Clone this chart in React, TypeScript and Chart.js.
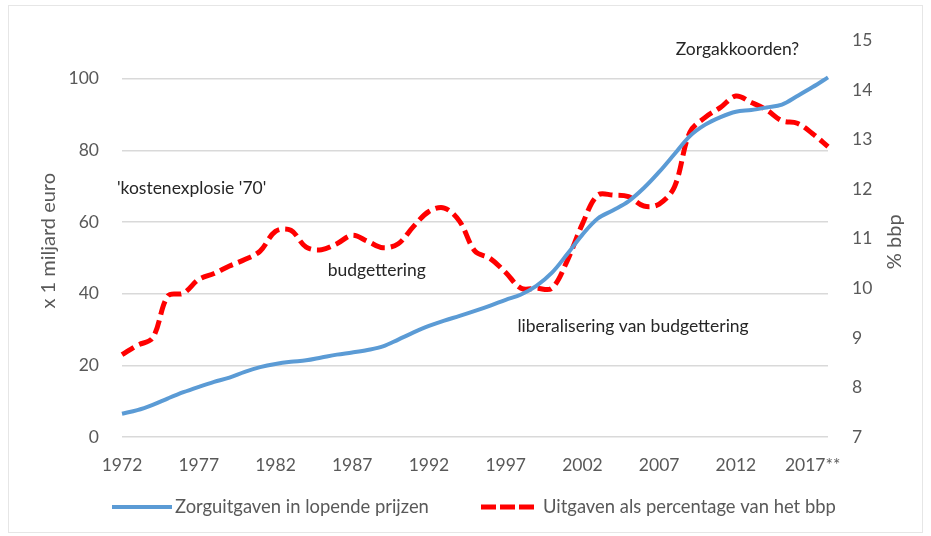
import React, { useEffect, useRef } from 'react';
import { Chart, registerables } from 'chart.js';

Chart.register(...registerables);

// ---- Data ----
const years: number[] = [
  1972, 1973, 1974, 1975, 1976, 1977, 1978, 1979, 1980, 1981,
  1982, 1983, 1984, 1985, 1986, 1987, 1988, 1989, 1990, 1991,
  1992, 1993, 1994, 1995, 1996, 1997, 1998, 1999, 2000, 2001,
  2002, 2003, 2004, 2005, 2006, 2007, 2008, 2009, 2010, 2011,
  2012, 2013, 2014, 2015, 2016, 2017, 2018,
];

// Zorguitgaven in lopende prijzen (x 1 miljard euro)
const spending: number[] = [
  6.5, 7.5, 9.0, 10.8, 12.5, 14.0, 15.4, 16.6, 18.2, 19.5,
  20.4, 21.0, 21.4, 22.2, 23.0, 23.6, 24.3, 25.3, 27.2, 29.2,
  31.0, 32.5, 33.8, 35.2, 36.7, 38.3, 39.8, 42.2, 45.8, 51.0,
  56.5, 61.0, 63.3, 65.8, 69.5, 74.0, 79.0, 84.0, 87.2, 89.3,
  90.8, 91.3, 92.0, 92.8, 95.2, 97.7, 100.4,
];

// Uitgaven als percentage van het bbp (% bbp)
const pctGdp: number[] = [
  8.66, 8.85, 9.0, 9.85, 9.9, 10.18, 10.3, 10.45, 10.58, 10.75,
  11.15, 11.17, 10.83, 10.78, 10.9, 11.07, 10.95, 10.82, 10.9, 11.25,
  11.55, 11.62, 11.35, 10.75, 10.6, 10.32, 10.0, 10.0, 10.0, 10.55,
  11.3, 11.88, 11.88, 11.85, 11.66, 11.7, 12.05, 13.15, 13.45, 13.65,
  13.88, 13.75, 13.6, 13.38, 13.33, 13.12, 12.86,
];

const tickYears: number[] = [1972, 1977, 1982, 1987, 1992, 1997, 2002, 2007, 2012, 2017];
const tickLabels: string[] = ['1972', '1977', '1982', '1987', '1992', '1997', '2002', '2007', '2012', '2017**'];

const leftTicks: number[] = [0, 20, 40, 60, 80, 100];
const rightTicks: number[] = [7, 8, 9, 10, 11, 12, 13, 14, 15];

const seriesNames: string[] = ['Zorguitgaven in lopende prijzen', 'Uitgaven als percentage van het bbp'];
const leftTitle = 'x 1 miljard euro';
const rightTitle = '% bbp';

// annotations anchored in data space (year, left-axis value)
const annotationTexts: string[] = ["'kostenexplosie '70'", 'budgettering', 'liberalisering van budgettering', 'Zorgakkoorden?'];
const annotationYears: number[] = [1971.67, 1988.6, 2005.3, 2012.1];
const annotationValues: number[] = [69.5, 46.4, 31.0, 108.2];
const annotationAligns: CanvasTextAlign[] = ['left', 'center', 'center', 'center'];

const BLUE = '#5B9BD5';
const RED = '#FF0000';
const TICK_COLOR = '#595959';
const TEXT_COLOR = '#262626';
const FONT = 'Lato, "Open Sans", sans-serif';

const overlayPlugin = {
  id: 'overlay',
  afterDraw(chart: any) {
    const { ctx, chartArea, scales } = chart;
    const x = scales.x;
    const yL = scales.yL;
    ctx.save();

    // annotations
    ctx.fillStyle = TEXT_COLOR;
    ctx.font = `17.5px ${FONT}`;
    ctx.textBaseline = 'middle';
    annotationTexts.forEach((t, i) => {
      const px = x.getPixelForValue(annotationYears[i] - years[0]);
      const py = yL.getPixelForValue(annotationValues[i]);
      ctx.textAlign = annotationAligns[i];
      ctx.fillText(t, px, py);
    });

    // axis titles (both read bottom-to-top)
    ctx.fillStyle = TICK_COLOR;
    ctx.font = `20px ${FONT}`;
    ctx.textAlign = 'center';
    ctx.textBaseline = 'middle';
    const midY = (chartArea.top + chartArea.bottom) / 2;
    ctx.save();
    ctx.translate(40, midY + 2);
    ctx.rotate(-Math.PI / 2);
    ctx.fillText(leftTitle, 0, 0);
    ctx.restore();
    ctx.save();
    ctx.translate(886, midY + 3);
    ctx.rotate(-Math.PI / 2);
    ctx.fillText(rightTitle, 0, 0);
    ctx.restore();

    // legend
    const ly = 501;
    const items = [
      { x0: 103, w: 60, gap: 3, color: BLUE, dash: [] as number[], lw: 4, label: seriesNames[0] },
      { x0: 472, w: 53, gap: 9, color: RED, dash: [15, 4], lw: 5, label: seriesNames[1] },
    ];
    items.forEach((it) => {
      ctx.beginPath();
      ctx.strokeStyle = it.color;
      ctx.lineWidth = it.lw;
      ctx.setLineDash(it.dash);
      ctx.lineCap = 'butt';
      ctx.moveTo(it.x0, ly);
      ctx.lineTo(it.x0 + it.w, ly);
      ctx.stroke();
      ctx.setLineDash([]);
      ctx.fillStyle = TICK_COLOR;
      ctx.font = `18.4px ${FONT}`;
      ctx.textAlign = 'left';
      ctx.textBaseline = 'middle';
      ctx.fillText(it.label, it.x0 + it.w + it.gap, ly);
    });

    ctx.restore();
  },
};

export default function App() {
  const canvasRef = useRef<HTMLCanvasElement | null>(null);

  useEffect(() => {
    if (!canvasRef.current) return;
    const chart = new Chart(canvasRef.current, {
      type: 'line',
      data: {
        labels: years.map(String),
        datasets: [
          {
            label: seriesNames[0],
            data: spending,
            yAxisID: 'yL',
            borderColor: BLUE,
            backgroundColor: BLUE,
            borderWidth: 4,
            pointRadius: 0,
            tension: 0.35,
            fill: false,
          },
          {
            label: seriesNames[1],
            data: pctGdp,
            yAxisID: 'yR',
            borderColor: RED,
            backgroundColor: RED,
            borderWidth: 5,
            borderDash: [14, 6],
            borderCapStyle: 'butt',
            pointRadius: 0,
            tension: 0.35,
            fill: false,
          },
        ],
      },
      options: {
        animation: false,
        responsive: true,
        maintainAspectRatio: false,
        layout: { padding: { top: 28, left: 0, right: 0, bottom: 55 } },
        plugins: {
          legend: { display: false },
          tooltip: { enabled: false },
        },
        scales: {
          x: {
            type: 'category',
            grid: { display: false, drawTicks: false },
            border: { display: false },
            ticks: {
              autoSkip: false,
              maxRotation: 0,
              minRotation: 0,
              padding: 18,
              color: TICK_COLOR,
              font: { family: FONT, size: 17.5 },
              callback: (_v: any, idx: number) => {
                const k = tickYears.indexOf(years[idx]);
                return k >= 0 ? tickLabels[k] : '';
              },
            },
            afterFit: (s: any) => { s.height = 40; },
          },
          yL: {
            type: 'linear',
            position: 'left',
            min: 0,
            max: 110.7,
            grid: { color: '#D9D9D9', lineWidth: 1.5, drawTicks: false },
            border: { display: false },
            ticks: {
              stepSize: 20,
              padding: 23,
              color: TICK_COLOR,
              font: { family: FONT, size: 17.5 },
            },
            afterBuildTicks: (s: any) => {
              s.ticks = leftTicks.map((v) => ({ value: v }));
            },
            afterFit: (s: any) => { s.width = 113; },
          },
          yR: {
            type: 'linear',
            position: 'right',
            min: 7,
            max: 15,
            grid: { display: false, drawTicks: false },
            border: { display: false },
            ticks: {
              stepSize: 1,
              padding: 24,
              color: TICK_COLOR,
              font: { family: FONT, size: 17.5 },
            },
            afterBuildTicks: (s: any) => {
              s.ticks = rightTicks.map((v) => ({ value: v }));
            },
            afterFit: (s: any) => { s.width = 94; },
          },
        },
      },
      plugins: [overlayPlugin],
    });
    return () => chart.destroy();
  }, []);

  return (
    <div
      style={{
        position: 'absolute',
        left: 8,
        top: 5,
        width: 915,
        height: 528,
        border: '1px solid #E6E6E6',
        boxSizing: 'border-box',
        background: '#fff',
      }}
    >
      <div style={{ position: 'absolute', left: 0, top: 0, width: 913, height: 526 }}>
        <canvas ref={canvasRef} />
      </div>
    </div>
  );
}
